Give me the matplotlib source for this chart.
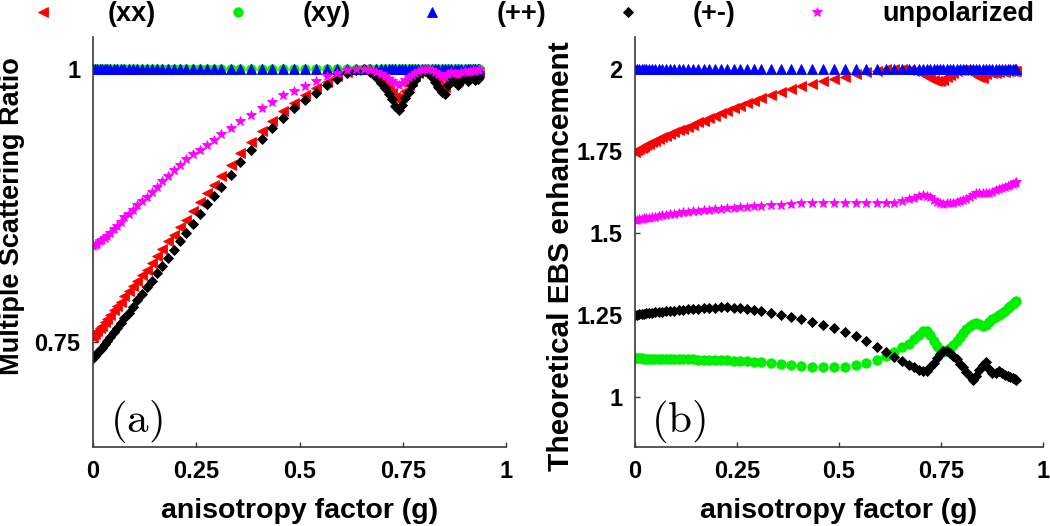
import matplotlib
matplotlib.use("Agg")
import matplotlib.pyplot as plt

plt.rcParams['font.family'] = ['Liberation Sans', 'DejaVu Sans']
plt.rcParams['mathtext.fontset'] = 'cm'

# anisotropy factor g (shared abscissa)
G = [0.000, 0.005, 0.010, 0.016, 0.022, 0.028, 0.035, 0.042, 0.050, 0.058, 0.067, 0.076, 0.086, 0.096,
     0.107, 0.118, 0.130, 0.142, 0.155, 0.168, 0.182, 0.196, 0.211, 0.226, 0.242, 0.258, 0.275, 0.292,
     0.310, 0.333, 0.357, 0.382, 0.408, 0.434, 0.460, 0.487, 0.514, 0.541, 0.567, 0.592, 0.615, 0.636, 0.655,
     0.671, 0.685, 0.697, 0.707, 0.716, 0.724, 0.732, 0.740, 0.748, 0.756, 0.764, 0.772, 0.780, 0.788,
     0.796, 0.804, 0.812, 0.820, 0.828, 0.836, 0.844, 0.852, 0.860, 0.868, 0.876, 0.884, 0.892, 0.900,
     0.907, 0.914, 0.920, 0.926, 0.931, 0.935]

# ---- panel (a): multiple scattering ratio ----
XX_A = [0.755, 0.757, 0.760, 0.763, 0.765, 0.768, 0.771, 0.775, 0.779, 0.783, 0.787, 0.792, 0.797, 0.801,
        0.806, 0.811, 0.816, 0.822, 0.829, 0.835, 0.842, 0.848, 0.855, 0.862, 0.870, 0.878, 0.886, 0.894,
        0.902, 0.912, 0.923, 0.933, 0.943, 0.952, 0.961, 0.969, 0.976, 0.982, 0.988, 0.993, 0.997, 0.999, 1.000,
        0.998, 0.994, 0.990, 0.986, 0.982, 0.978, 0.974, 0.971, 0.975, 0.980, 0.985, 0.989, 0.993, 0.996,
        0.998, 0.999, 0.998, 0.995, 0.992, 0.988, 0.984, 0.983, 0.990, 0.994, 0.992, 0.990, 0.993, 0.995,
        0.993, 0.995, 0.997, 0.995, 0.996, 0.997]
XY_A = [1.0, 1.0, 1.0, 1.0, 1.0, 1.0, 1.0, 1.0, 1.0, 1.0, 1.0, 1.0, 1.0, 1.0,
        1.0, 1.0, 1.0, 1.0, 1.0, 1.0, 1.0, 1.0, 1.0, 1.0, 1.0, 1.0, 1.0, 1.0,
        1.0, 1.0, 1.0, 1.0, 1.0, 1.0, 1.0, 1.0, 1.0, 1.0, 1.0, 1.0, 1.0, 1.0, 1.0,
        1.0, 1.0, 1.0, 1.0, 1.0, 1.0, 1.0, 1.0, 1.0, 1.0, 1.0, 1.0, 1.0, 1.0,
        1.0, 1.0, 1.0, 1.0, 1.0, 1.0, 1.0, 1.0, 1.0, 1.0, 1.0, 1.0, 1.0, 1.0,
        1.0, 1.0, 1.0, 1.0, 1.0, 1.0]
PP_A = [1.0, 1.0, 1.0, 1.0, 1.0, 1.0, 1.0, 1.0, 1.0, 1.0, 1.0, 1.0, 1.0, 1.0,
        1.0, 1.0, 1.0, 1.0, 1.0, 1.0, 1.0, 1.0, 1.0, 1.0, 1.0, 1.0, 1.0, 1.0,
        1.0, 1.0, 1.0, 1.0, 1.0, 1.0, 1.0, 1.0, 1.0, 1.0, 1.0, 1.0, 1.0, 1.0, 1.0,
        1.0, 1.0, 1.0, 1.0, 1.0, 1.0, 1.0, 1.0, 1.0, 1.0, 1.0, 1.0, 1.0, 1.0,
        1.0, 1.0, 1.0, 1.0, 1.0, 1.0, 1.0, 1.0, 1.0, 1.0, 1.0, 1.0, 1.0, 1.0,
        1.0, 1.0, 1.0, 1.0, 1.0, 1.0]
PM_A = [0.735, 0.737, 0.740, 0.743, 0.745, 0.748, 0.751, 0.755, 0.759, 0.763, 0.767, 0.772, 0.777, 0.782,
        0.788, 0.794, 0.800, 0.806, 0.813, 0.820, 0.827, 0.834, 0.842, 0.850, 0.858, 0.867, 0.876, 0.884,
        0.892, 0.903, 0.915, 0.926, 0.936, 0.946, 0.955, 0.964, 0.971, 0.978, 0.985, 0.991, 0.996, 0.999, 1.000,
        0.997, 0.992, 0.987, 0.982, 0.977, 0.972, 0.966, 0.962, 0.967, 0.973, 0.979, 0.985, 0.990, 0.994,
        0.997, 0.998, 0.996, 0.992, 0.988, 0.983, 0.979, 0.977, 0.985, 0.990, 0.988, 0.985, 0.989, 0.992,
        0.989, 0.991, 0.993, 0.990, 0.991, 0.992]
UN_A = [0.838, 0.839, 0.840, 0.842, 0.843, 0.845, 0.847, 0.850, 0.853, 0.856, 0.860, 0.864, 0.867, 0.871,
        0.875, 0.879, 0.883, 0.887, 0.892, 0.897, 0.902, 0.907, 0.912, 0.917, 0.922, 0.926, 0.930, 0.935,
        0.940, 0.946, 0.952, 0.958, 0.964, 0.970, 0.976, 0.980, 0.984, 0.989, 0.993, 0.996, 0.999, 1.000, 1.000,
        0.999, 0.997, 0.995, 0.993, 0.991, 0.989, 0.987, 0.985, 0.987, 0.990, 0.992, 0.994, 0.996, 0.998,
        0.999, 1.000, 1.000, 0.999, 0.997, 0.995, 0.993, 0.992, 0.995, 0.997, 0.996, 0.995, 0.997, 0.998,
        0.997, 0.998, 0.999, 0.998, 0.999, 1.000]

# ---- panel (b): theoretical EBS enhancement ----
XX_B = [1.748, 1.752, 1.755, 1.759, 1.763, 1.767, 1.771, 1.776, 1.781, 1.786, 1.792, 1.797, 1.802, 1.807,
        1.813, 1.818, 1.824, 1.830, 1.837, 1.843, 1.850, 1.857, 1.865, 1.873, 1.880, 1.887, 1.895, 1.903,
        1.911, 1.920, 1.929, 1.938, 1.947, 1.955, 1.963, 1.970, 1.977, 1.984, 1.990, 1.995, 1.999, 2.000, 2.000,
        1.998, 1.994, 1.990, 1.985, 1.980, 1.974, 1.968, 1.962, 1.962, 1.968, 1.976, 1.983, 1.989, 1.993,
        1.996, 1.998, 1.997, 1.993, 1.988, 1.982, 1.976, 1.974, 1.984, 1.991, 1.989, 1.987, 1.991, 1.994,
        1.991, 1.993, 1.995, 1.993, 1.994, 1.995]
XY_B = [1.118, 1.118, 1.118, 1.118, 1.117, 1.117, 1.117, 1.117, 1.117, 1.116, 1.116, 1.116, 1.116, 1.116,
        1.116, 1.115, 1.115, 1.115, 1.114, 1.114, 1.113, 1.113, 1.112, 1.112, 1.111, 1.110, 1.109, 1.108,
        1.106, 1.104, 1.102, 1.099, 1.096, 1.093, 1.091, 1.091, 1.093, 1.097, 1.104, 1.114, 1.126, 1.138, 1.151,
        1.163, 1.177, 1.190, 1.200, 1.202, 1.190, 1.172, 1.155, 1.143, 1.138, 1.142, 1.150, 1.160, 1.172,
        1.184, 1.195, 1.206, 1.216, 1.223, 1.226, 1.222, 1.218, 1.220, 1.230, 1.238, 1.245, 1.250, 1.256,
        1.263, 1.270, 1.278, 1.285, 1.290, 1.293]
PP_B = [2.0, 2.0, 2.0, 2.0, 2.0, 2.0, 2.0, 2.0, 2.0, 2.0, 2.0, 2.0, 2.0, 2.0,
        2.0, 2.0, 2.0, 2.0, 2.0, 2.0, 2.0, 2.0, 2.0, 2.0, 2.0, 2.0, 2.0, 2.0,
        2.0, 2.0, 2.0, 2.0, 2.0, 2.0, 2.0, 2.0, 2.0, 2.0, 2.0, 2.0, 2.0, 2.0, 2.0,
        2.0, 2.0, 2.0, 2.0, 2.0, 2.0, 2.0, 2.0, 2.0, 2.0, 2.0, 2.0, 2.0, 2.0,
        2.0, 2.0, 2.0, 2.0, 2.0, 2.0, 2.0, 2.0, 2.0, 2.0, 2.0, 2.0, 2.0, 2.0,
        2.0, 2.0, 2.0, 2.0, 2.0, 2.0]
PM_B = [1.250, 1.251, 1.252, 1.253, 1.254, 1.255, 1.256, 1.257, 1.258, 1.259, 1.260, 1.261, 1.262, 1.263,
        1.264, 1.266, 1.267, 1.268, 1.269, 1.270, 1.271, 1.272, 1.273, 1.273, 1.272, 1.270, 1.268, 1.265,
        1.261, 1.256, 1.250, 1.244, 1.237, 1.229, 1.220, 1.210, 1.198, 1.185, 1.170, 1.153, 1.137, 1.122, 1.110,
        1.099, 1.090, 1.083, 1.078, 1.080, 1.090, 1.105, 1.120, 1.132, 1.140, 1.139, 1.134, 1.126, 1.115,
        1.102, 1.090, 1.077, 1.064, 1.053, 1.065, 1.082, 1.098, 1.106, 1.085, 1.072, 1.074, 1.078, 1.073,
        1.066, 1.064, 1.062, 1.058, 1.055, 1.052]
UN_B = [1.540, 1.541, 1.542, 1.544, 1.545, 1.546, 1.547, 1.549, 1.550, 1.552, 1.554, 1.556, 1.557, 1.559,
        1.561, 1.563, 1.565, 1.566, 1.568, 1.569, 1.571, 1.572, 1.574, 1.576, 1.577, 1.578, 1.580, 1.581,
        1.583, 1.584, 1.586, 1.588, 1.590, 1.591, 1.591, 1.590, 1.590, 1.590, 1.590, 1.590, 1.590, 1.592, 1.598,
        1.603, 1.608, 1.613, 1.616, 1.614, 1.609, 1.601, 1.594, 1.590, 1.589, 1.590, 1.590, 1.592, 1.595,
        1.598, 1.600, 1.604, 1.610, 1.616, 1.621, 1.622, 1.622, 1.623, 1.623, 1.626, 1.630, 1.633, 1.636,
        1.639, 1.642, 1.645, 1.648, 1.652, 1.656]

LABELS = ['(xx)', '(xy)', '(++)', '(+-)', 'unpolarized']
X_TICKS = [0, 0.25, 0.5, 0.75, 1]
X_TICKLABELS = ['0', '0.25', '0.5', '0.75', '1']
YA_TICKS = [0.75, 1]
YA_TICKLABELS = ['0.75', '1']
YB_TICKS = [1, 1.25, 1.5, 1.75, 2]
YB_TICKLABELS = ['1', '1.25', '1.5', '1.75', '2']

STYLES = [
    dict(marker='<', color='#ff0000', ms=6.5),
    dict(marker='o', color='#00ee00', ms=6.8),
    dict(marker='^', color='#0000ff', ms=6.5),
    dict(marker='D', color='#000000', ms=4.8),
    dict(marker='*', color='#ff00ff', ms=7.2),
]

W, H = 1050, 526
fig = plt.figure(figsize=(W / 100, H / 100), dpi=100)


def px_axes(l, r, t, b):
    return fig.add_axes([l / W, 1 - b / H, (r - l) / W, (b - t) / H])


ax_a = px_axes(93, 506, 37, 447)
ax_b = px_axes(635, 1043, 37, 447)

handles = []
for ax, series in ((ax_a, (XX_A, XY_A, PP_A, PM_A, UN_A)),
                   (ax_b, (XX_B, XY_B, PP_B, PM_B, UN_B))):
    hs = []
    for ys, st, lab in zip(series, STYLES, LABELS):
        h, = ax.plot(G, ys, linestyle='none', marker=st['marker'], color=st['color'],
                     markersize=st['ms'], markeredgewidth=0.6, markeredgecolor=st['color'],
                     label=lab)
        hs.append(h)
    handles = hs if not handles else handles

for ax in (ax_a, ax_b):
    ax.set_xlim(0, 1)
    ax.set_xticks(X_TICKS)
    ax.set_xticklabels(X_TICKLABELS)
    for s in ('top', 'right'):
        ax.spines[s].set_visible(False)
    for s in ('left', 'bottom'):
        ax.spines[s].set_color('#3a3a3a')
        ax.spines[s].set_linewidth(1.2)
    ax.tick_params(direction='in', length=3.5, width=1.0, color='#3a3a3a',
                   labelsize=17, pad=9)
    for t in ax.get_xticklabels() + ax.get_yticklabels():
        t.set_fontweight('bold')
    ax.set_xlabel('anisotropy factor (g)', fontsize=20.5, fontweight='bold', labelpad=11)

ax_a.set_ylim(0.654, 1.029)
ax_a.set_yticks(YA_TICKS)
ax_a.set_yticklabels(YA_TICKLABELS, fontweight='bold')
ax_a.set_ylabel('Multiple Scattering Ratio', fontsize=19.5, fontweight='bold')
ax_a.yaxis.set_label_coords(-0.165, 0.563)

ax_b.set_ylim(0.8476, 2.0976)
ax_b.set_yticks(YB_TICKS)
ax_b.set_yticklabels(YB_TICKLABELS, fontweight='bold')
ax_b.set_ylabel('Theoretical EBS enhancement', fontsize=21.5, fontweight='bold')
ax_b.yaxis.set_label_coords(-0.147, 0.466)

ax_a.text(0.04, 0.005, r'$\mathrm{(a)}$', transform=ax_a.transAxes, fontsize=31,
          ha='left', va='bottom')
ax_b.text(0.04, 0.005, r'$\mathrm{(b)}$', transform=ax_b.transAxes, fontsize=31,
          ha='left', va='bottom')

fig.legend(handles=handles, labels=LABELS, loc='center left',
           bbox_to_anchor=(29.5 / W, 1 - 14 / H), ncol=5, frameon=False,
           numpoints=1, handlelength=1.0, handletextpad=1.9, columnspacing=2.5,
           borderpad=0, borderaxespad=0,
           prop=dict(family='Liberation Sans', weight='bold', size=19.5))

fig.savefig('out.png', dpi=100)
